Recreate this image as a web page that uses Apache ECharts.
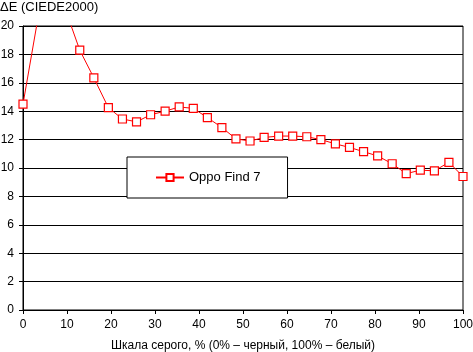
<!DOCTYPE html>
<html>
<head>
<meta charset="utf-8">
<script src="https://cdn.jsdelivr.net/npm/echarts@6/dist/echarts.min.js"></script>
<style>
    html, body {margin: 0; padding: 0; background: #fff;}
    #chart {width: 473px; height: 352px;}
</style>
</head>
<body>
<div id="chart"></div>
<script>
// серые уровни, %
const gray_levels = [0, 3.2, 6.5, 9.7, 12.9, 16.1, 19.4, 22.6, 25.8, 29, 32.3, 35.5, 38.7, 41.9, 45.2, 48.4,
    51.6, 54.8, 58.1, 61.3, 64.5, 67.7, 71, 74.2, 77.4, 80.6, 83.9, 87.1, 90.3, 93.5, 96.8, 100];
// ΔE для Oppo Find 7
const delta_e = [14.5, 20.2, 21.8, 21.1, 18.3, 16.35, 14.25, 13.45, 13.25, 13.75, 14.0, 14.3, 14.2, 13.55, 12.85, 12.05,
    11.9, 12.15, 12.25, 12.25, 12.2, 12.0, 11.7, 11.45, 11.15, 10.85, 10.3, 9.6, 9.85, 9.8, 10.4, 9.4];
const series_name = 'Oppo Find 7';
const y_title = 'ΔE (CIEDE2000)';
const x_title = 'Шкала серого, % (0% – черный, 100% – белый)';

const font = 'Arial, "Liberation Sans", sans-serif';

let chart = echarts.init(document.getElementById('chart'), null, {renderer: 'canvas'});
chart.setOption({
    animation: false,
    title: {
        text: y_title, left: -5, top: -4,
        textStyle: {fontFamily: font, fontSize: 13, fontWeight: 'normal', color: '#000'}
    },
    grid: {
        left: 23, right: 10, top: 26, bottom: 42,
        containLabel: false, outerBoundsMode: 'none',
        show: true, borderColor: '#000', borderWidth: 1
    },
    xAxis: {
        type: 'value', min: 0, max: 100, interval: 10,
        name: x_title, nameLocation: 'middle', nameGap: 30,
        nameTextStyle: {fontFamily: font, fontSize: 12, color: '#000'},
        axisLine: {lineStyle: {color: '#000', width: 1}},
        axisTick: {show: true, length: 4, lineStyle: {color: '#000'}},
        axisLabel: {fontFamily: font, fontSize: 12, color: '#000', margin: 9},
        splitLine: {show: false}
    },
    yAxis: {
        type: 'value', min: 0, max: 20, interval: 2,
        axisLine: {show: true, lineStyle: {color: '#000', width: 1}},
        axisTick: {show: true, length: 4, lineStyle: {color: '#000'}},
        axisLabel: {fontFamily: font, fontSize: 12, color: '#000', margin: 9},
        splitLine: {show: true, lineStyle: {color: '#000', width: 1}}
    },
    legend: {
        left: 127, top: 157,
        padding: [14, 27, 14, 28],
        backgroundColor: '#fff', borderColor: '#000', borderWidth: 1, borderRadius: 0,
        itemWidth: 28, itemHeight: 9, itemGap: 5,
        textStyle: {fontFamily: font, fontSize: 13, color: '#000'},
        data: [series_name]
    },
    series: [{
        name: series_name,
        type: 'line',
        data: gray_levels.map((x, i) => [x, delta_e[i]]),
        clip: true,
        symbol: 'rect',
        symbolSize: 8,
        lineStyle: {color: '#ff0000', width: 1},
        itemStyle: {color: '#fff', borderColor: '#ff0000', borderWidth: 1.2}
    }]
});
</script>
</body>
</html>
